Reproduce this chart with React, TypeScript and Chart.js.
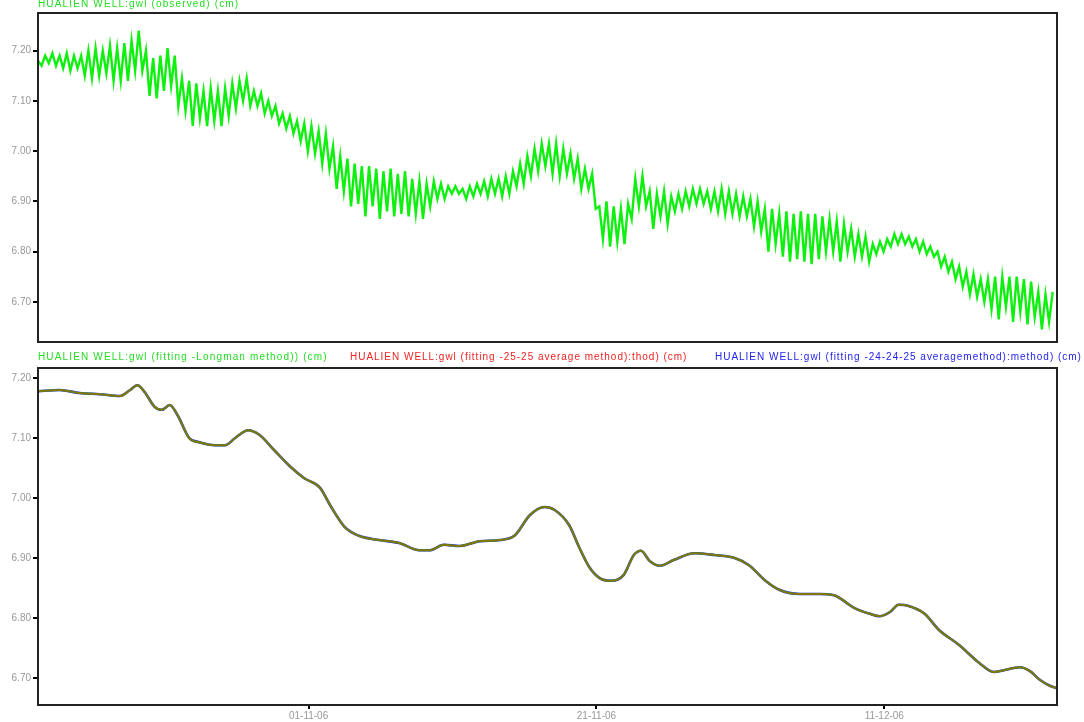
import React, { useEffect, useRef } from "react";
import { Chart, registerables } from "chart.js";

Chart.register(...registerables);

// ---- text ----
const TITLE_TOP = "HUALIEN WELL:gwl (observed) (cm)";
const LEGEND_LABELS = [
  "HUALIEN WELL:gwl (fitting -Longman method)) (cm)",
  "HUALIEN WELL:gwl (fitting -25-25 average method):thod) (cm)",
  "HUALIEN WELL:gwl (fitting -24-24-25 averagemethod):method) (cm)",
];
const LEGEND_COLORS = ["#22dd22", "#ee2222", "#2222ee"];
const LEGEND_LEFT = [38, 350, 715];
const LEGEND_SPACING = [1.15, 0.98, 0.98];

// ---- axes ----
const X_TICK_DAYS = [0, 20, 40];
const X_TICK_LABELS = ["01-11-06", "21-11-06", "11-12-06"];
const Y_TICKS = [6.7, 6.8, 6.9, 7.0, 7.1, 7.2];
const X_MIN = -18.8;
const X_MAX = 52.0;

// ---- top panel: observed groundwater level (m), one value every 6 h from 13 Oct ----
const RAW_START_DAY = -18.8;
const RAW_STEP_DAY = 0.25;
const rawLevels = [
  7.18, 7.17, 7.19, 7.175, 7.195, 7.17, 7.19, 7.165, 7.195, 7.16, 7.19, 7.165,
  7.19, 7.15, 7.2, 7.145, 7.205, 7.15, 7.2, 7.155, 7.21, 7.14, 7.205, 7.14,
  7.215, 7.14, 7.22, 7.16, 7.24, 7.16, 7.2, 7.11, 7.185, 7.105, 7.19, 7.12,
  7.205, 7.13, 7.19, 7.09, 7.145, 7.08, 7.14, 7.05, 7.135, 7.065, 7.12, 7.05,
  7.125, 7.06, 7.12, 7.05, 7.125, 7.07, 7.135, 7.085, 7.14, 7.1, 7.145, 7.09,
  7.12, 7.09, 7.115, 7.075, 7.1, 7.07, 7.09, 7.055, 7.075, 7.045, 7.07, 7.035,
  7.06, 7.02, 7.055, 7.0, 7.05, 6.995, 7.04, 6.975, 7.035, 6.965, 7.01, 6.925,
  6.99, 6.92, 6.985, 6.89, 6.975, 6.895, 6.97, 6.87, 6.97, 6.89, 6.965, 6.865,
  6.96, 6.88, 6.965, 6.87, 6.955, 6.875, 6.96, 6.87, 6.945, 6.875, 6.94, 6.865,
  6.935, 6.89, 6.94, 6.905, 6.935, 6.905, 6.93, 6.915, 6.93, 6.915, 6.925, 6.905,
  6.93, 6.91, 6.935, 6.915, 6.94, 6.91, 6.945, 6.915, 6.945, 6.91, 6.95, 6.915,
  6.96, 6.93, 6.975, 6.935, 6.99, 6.95, 7.005, 6.96, 7.015, 6.97, 7.015, 6.955,
  7.015, 6.95, 7.005, 6.955, 6.995, 6.945, 6.985, 6.925, 6.965, 6.925, 6.955, 6.885,
  6.89, 6.825, 6.9, 6.81, 6.89, 6.82, 6.885, 6.815, 6.895, 6.865, 6.945, 6.89,
  6.95, 6.89, 6.92, 6.845, 6.915, 6.87, 6.92, 6.855, 6.91, 6.88, 6.915, 6.885,
  6.92, 6.89, 6.925, 6.895, 6.925, 6.895, 6.92, 6.885, 6.92, 6.88, 6.925, 6.875,
  6.92, 6.875, 6.915, 6.87, 6.91, 6.87, 6.905, 6.85, 6.9, 6.84, 6.885, 6.8,
  6.885, 6.815, 6.875, 6.79, 6.88, 6.78, 6.875, 6.785, 6.88, 6.78, 6.875, 6.775,
  6.875, 6.785, 6.87, 6.8, 6.865, 6.8, 6.86, 6.78, 6.855, 6.8, 6.845, 6.79,
  6.835, 6.79, 6.83, 6.78, 6.815, 6.795, 6.82, 6.8, 6.825, 6.81, 6.835, 6.815,
  6.835, 6.815, 6.83, 6.81, 6.825, 6.8, 6.82, 6.795, 6.81, 6.79, 6.8, 6.77,
  6.79, 6.76, 6.78, 6.745, 6.77, 6.73, 6.76, 6.715, 6.755, 6.71, 6.745, 6.7,
  6.745, 6.685, 6.75, 6.665, 6.75, 6.69, 6.75, 6.66, 6.75, 6.68, 6.745, 6.655,
  6.74, 6.67, 6.72, 6.645, 6.715, 6.66, 6.72,
];

// ---- bottom panel: fitted (tide-removed) levels ----
const fitDays = [
  -18.8, -17.3, -15.9, -14.5, -13.1, -12.4, -11.9, -11.4, -10.7, -10.2, -9.65, -9.1,
  -8.3, -7.6, -6.5, -5.8, -5.1, -4.2, -3.4, -2.4, -1.3, -0.3, 0.8, 1.5,
  2.5, 3.5, 4.9, 6.3, 7.7, 8.4, 9.4, 10.5, 11.9, 13.3, 14.3, 15.4,
  16.4, 17.1, 18.1, 18.8, 19.5, 20.2, 21.0, 21.9, 22.6, 23.1, 23.7, 24.4,
  25.4, 26.8, 28.2, 29.6, 30.6, 31.7, 32.7, 34.1, 35.5, 36.5, 37.9, 39.0,
  39.7, 40.4, 41.0, 41.7, 42.8, 43.8, 45.2, 46.6, 47.6, 48.3, 49.4, 50.1,
  50.8, 51.5, 52.0,
];
const fitLongman = [
  7.178, 7.18, 7.175, 7.173, 7.17, 7.18, 7.188, 7.177, 7.152, 7.147, 7.155, 7.138,
  7.1, 7.093, 7.088, 7.088, 7.1, 7.113, 7.105, 7.08, 7.053, 7.033, 7.017, 6.988,
  6.952, 6.937, 6.93, 6.925, 6.913, 6.913, 6.922, 6.92, 6.928, 6.93, 6.937, 6.972,
  6.985, 6.98, 6.955, 6.918, 6.885, 6.867, 6.862, 6.872, 6.905, 6.912, 6.895, 6.887,
  6.897, 6.908, 6.905, 6.9, 6.888, 6.863, 6.847, 6.84, 6.84, 6.838, 6.817, 6.807,
  6.803, 6.81, 6.822, 6.82, 6.807, 6.78, 6.755, 6.725, 6.71, 6.713, 6.718, 6.712,
  6.697, 6.687, 6.683,
];
const fitAvg25 = [...fitLongman];
const fitAvg24 = [...fitLongman];

const FONT = "'Liberation Sans', Arial, sans-serif";

const framePlugin = {
  id: "frame",
  afterDraw(chart: any) {
    const { ctx, chartArea: a } = chart;
    ctx.save();
    ctx.strokeStyle = "#222";
    ctx.lineWidth = 2;
    ctx.strokeRect(a.left, a.top, a.right - a.left, a.bottom - a.top);
    ctx.restore();
  },
};

function yScale(min: number, max: number) {
  return {
    type: "linear",
    min,
    max,
    afterBuildTicks: (s: any) => {
      s.ticks = Y_TICKS.map((v) => ({ value: v }));
    },
    afterFit: (s: any) => {
      s.width = 38;
    },
    ticks: {
      callback: (v: any) => Number(v).toFixed(2),
      color: "#999",
      font: { family: FONT, size: 10 },
      padding: 2,
    },
    grid: { drawOnChartArea: false, drawTicks: true, tickLength: 5, color: "#000", lineWidth: 2 },
    border: { display: false },
  };
}

function TopChart() {
  const ref = useRef<HTMLCanvasElement>(null);
  useEffect(() => {
    const chart = new Chart(ref.current!, {
      type: "line",
      data: {
        datasets: [
          {
            data: rawLevels.map((v, i) => ({ x: RAW_START_DAY + i * RAW_STEP_DAY, y: v })),
            borderColor: "#10f010",
            borderWidth: 2.4,
            pointRadius: 0,
            tension: 0,
          },
        ],
      },
      options: {
        responsive: false,
        animation: false,
        layout: { padding: { top: 13, right: 27, bottom: 7, left: 0 } },
        plugins: { legend: { display: false }, tooltip: { enabled: false } },
        scales: {
          x: { type: "linear", min: X_MIN, max: X_MAX, display: false },
          y: yScale(6.62, 7.275) as any,
        },
      },
      plugins: [framePlugin],
    });
    return () => chart.destroy();
  }, []);
  return <canvas ref={ref} width={1084} height={350} style={{ display: "block" }} />;
}

function BottomChart() {
  const ref = useRef<HTMLCanvasElement>(null);
  useEffect(() => {
    const mk = (arr: number[]) => arr.map((v, i) => ({ x: fitDays[i], y: v }));
    const chart = new Chart(ref.current!, {
      type: "line",
      data: {
        // dataset 0 is drawn on top
        datasets: [
          { data: mk(fitAvg25), borderColor: "rgba(255,0,0,0.5)", borderWidth: 2, pointRadius: 0, cubicInterpolationMode: "monotone" },
          { data: mk(fitLongman), borderColor: "#00f000", borderWidth: 2, pointRadius: 0, cubicInterpolationMode: "monotone" },
          { data: mk(fitAvg24), borderColor: "#2020ff", borderWidth: 2.6, pointRadius: 0, cubicInterpolationMode: "monotone" },
        ],
      },
      options: {
        responsive: false,
        animation: false,
        layout: { padding: { top: 18, right: 27, bottom: 0, left: 0 } },
        plugins: { legend: { display: false }, tooltip: { enabled: false } },
        scales: {
          x: {
            type: "linear",
            min: X_MIN,
            max: X_MAX,
            afterBuildTicks: (s: any) => {
              s.ticks = X_TICK_DAYS.map((v) => ({ value: v }));
            },
            afterFit: (s: any) => {
              s.height = 17;
            },
            ticks: {
              callback: (v: any) => X_TICK_LABELS[X_TICK_DAYS.indexOf(Number(v))] ?? "",
              color: "#999",
              font: { family: FONT, size: 10 },
              padding: 1,
              maxRotation: 0,
              autoSkip: false,
            },
            grid: { drawOnChartArea: false, drawTicks: true, tickLength: 4, color: "#000", lineWidth: 2 },
            border: { display: false },
          },
          y: yScale(6.655, 7.2167) as any,
        },
      },
      plugins: [framePlugin],
    });
    return () => chart.destroy();
  }, []);
  return <canvas ref={ref} width={1084} height={372} style={{ display: "block" }} />;
}

const textStyle = (left: number, top: number, color: string, spacing: number): React.CSSProperties => ({
  position: "absolute",
  left,
  top,
  color,
  fontFamily: FONT,
  fontSize: 10,
  letterSpacing: `${spacing}px`,
  lineHeight: "12px",
  whiteSpace: "nowrap",
});

export default function App() {
  return (
    <div style={{ position: "absolute", left: 0, top: 0, width: 1084, height: 722, background: "#fff", overflow: "hidden" }}>
      <div style={{ position: "absolute", left: 0, top: 0 }}>
        <TopChart />
      </div>
      <div style={{ position: "absolute", left: 0, top: 350 }}>
        <BottomChart />
      </div>
      <div style={textStyle(38, -2, "#22dd22", 1.15)}>{TITLE_TOP}</div>
      {LEGEND_LABELS.map((t, i) => (
        <div key={i} style={textStyle(LEGEND_LEFT[i], 351, LEGEND_COLORS[i], LEGEND_SPACING[i])}>
          {t}
        </div>
      ))}
    </div>
  );
}
